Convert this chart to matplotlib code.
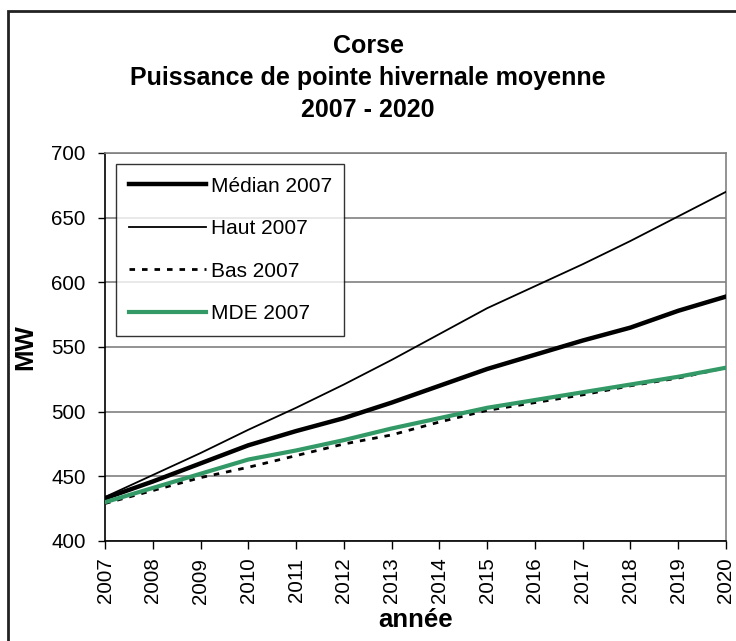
import matplotlib
matplotlib.use("Agg")
import matplotlib.pyplot as plt
from matplotlib.patches import Rectangle

plt.rcParams['font.family'] = ['Liberation Sans', 'DejaVu Sans']

years = [2007, 2008, 2009, 2010, 2011, 2012, 2013, 2014, 2015, 2016, 2017, 2018, 2019, 2020]
median = [433, 446, 460, 474, 485, 495, 507, 520, 533, 544, 555, 565, 578, 589]
haut = [434, 451, 468, 486, 503, 521, 540, 560, 580, 597, 614, 632, 651, 670]
bas = [429, 439, 449, 457, 466, 475, 482, 492, 501, 507, 513, 520, 526, 534]
mde = [430, 441, 452, 463, 470, 478, 487, 495, 503, 509, 515, 521, 527, 534]
labels = ["Médian 2007", "Haut 2007", "Bas 2007", "MDE 2007"]

W, H = 736, 641
fig = plt.figure(figsize=(W / 100, H / 100), dpi=100)
ax = fig.add_axes([105 / W, 1 - 541 / H, (726 - 105) / W, (541 - 153) / H])

ax.plot(years, median, color='black', lw=3.2, label=labels[0], zorder=4)
ax.plot(years, haut, color='black', lw=1.3, label=labels[1], zorder=4)
ax.plot(years, bas, color='black', lw=2.0, ls=(0, (2, 2.5)), label=labels[2], zorder=3)
ax.plot(years, mde, color='#339966', lw=3.0, label=labels[3], zorder=5)

ax.set_xlim(2007, 2020)
ax.set_ylim(400, 700)
ax.set_xticks(years)
ax.set_xticklabels([str(y) for y in years], rotation=90, fontsize=14.8)
ax.set_yticks(range(400, 701, 50))
ax.tick_params(axis='y', labelsize=14.8, direction='out', length=5, width=1, pad=9)
ax.tick_params(axis='x', direction='out', length=6, width=1, pad=6)
ax.yaxis.grid(True, color='#808080', lw=1.2)
ax.set_axisbelow(True)

for s in ['top', 'right']:
    ax.spines[s].set_color('#808080')
    ax.spines[s].set_linewidth(1.2)
for s in ['left', 'bottom']:
    ax.spines[s].set_color('black')
    ax.spines[s].set_linewidth(1.2)

ax.set_xlabel("année", fontsize=18.5, fontweight='bold', labelpad=3)
ax.set_ylabel("MW", fontsize=18.5, fontweight='bold', labelpad=10)

leg = ax.legend(loc='upper left', bbox_to_anchor=(11 / 621, 1 - 11 / 388), fontsize=15,
                frameon=True, fancybox=False, edgecolor='black', handlelength=3.7,
                handletextpad=0.25, labelspacing=1.13, borderpad=0.6, borderaxespad=0)
leg.get_frame().set_linewidth(1.0)

fig.text(0.5, 1 - 78 / H, "Corse\nPuissance de pointe hivernale moyenne\n2007 - 2020",
         ha='center', va='center', fontsize=18, fontweight='bold', linespacing=1.42)

fig.patches.append(Rectangle((8 / W, -0.05), 1.1, 1 - 11 / H + 0.05, transform=fig.transFigure,
                             fill=False, edgecolor='#222222', lw=2))

fig.savefig("out.png", dpi=100)
